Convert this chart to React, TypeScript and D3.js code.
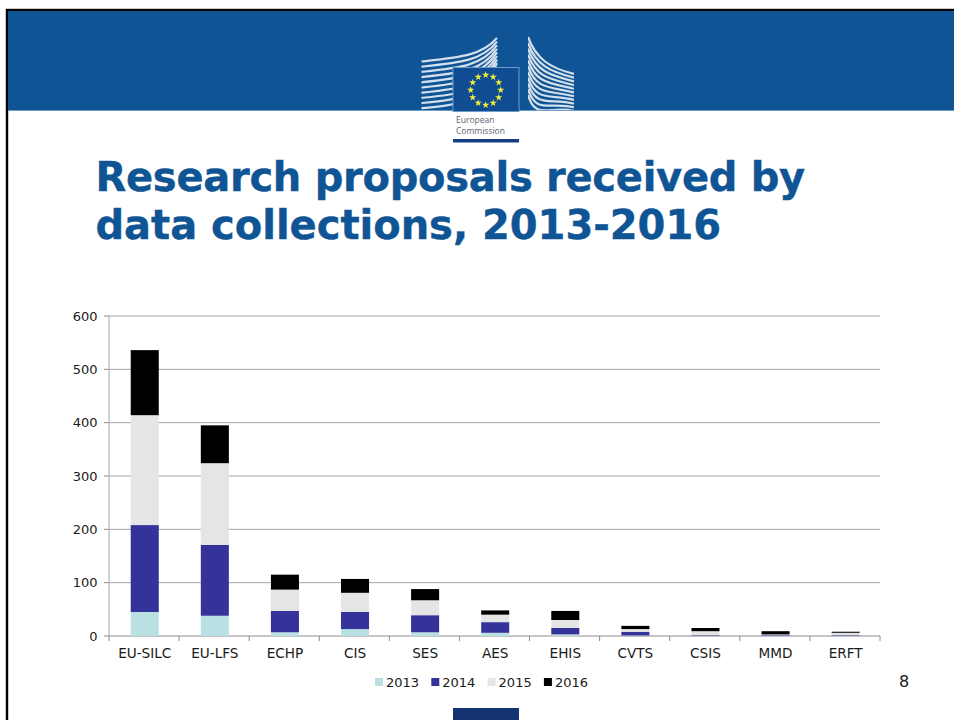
import React from "react";
import * as d3 from "d3";

const categories = ["EU-SILC","EU-LFS","ECHP","CIS","SES","AES","EHIS","CVTS","CSIS","MMD","ERFT"];
const years = ["2013","2014","2015","2016"];
const v2013 = [45,38,7,13,7,6,3,1,1,1,1];
const v2014 = [163,133,40,32,32,20,12,7,1,1,1];
const v2015 = [206,153,40,36,28,14,15,5,7,1,4];
const v2016 = [122,71,28,26,21,8,17,6,6,6,2];
const yTicks = [0,100,200,300,400,500,600];
const colors = ["#b9e0e3","#35339a","#e5e5e5","#000000"];
const titleLines = ["Research proposals received by","data collections, 2013-2016"];
const titleSpacing = [-0.28,-0.02];
const font = "'DejaVu Sans', Verdana, sans-serif";

const x = d3.scaleBand<string>().domain(categories).range([109.7,880.7]).paddingInner(0.6).paddingOuter(0.3);
const step = 771/11;
const y = d3.scaleLinear().domain([0,600]).range([636,316]);
const rows = categories.map((c,i)=>({cat:c,"2013":v2013[i],"2014":v2014[i],"2015":v2015[i],"2016":v2016[i]}));
const stacked = d3.stack<any>().keys(years)(rows);

const leftStripes = d3.range(0,10).map(i=>{
  const y0=61.5+i*5.2, y1=38+i*3.6;
  return `M421.5,${y0} C460,${y0-4} 482,${y0-6} 497,${y1}`;
});
const rightStripes = d3.range(0,11).map(i=>{
  const y0=37+i*4.6, y1=74+i*3.7;
  return `M528,${y0+ i*1.2} C536,${y0+22+i*1.6} 550,${y1-6} 574,${y1}`;
});
const star = d3.symbol().type(d3.symbolStar).size(16);
const stars = d3.range(12).map(i=>{
  const a=i*Math.PI/6;
  return [485.7+15*Math.sin(a), 90-15*Math.cos(a)];
});

export default function App(){
  const band=x.bandwidth();
  return (
    <svg width={954} height={720} style={{position:"absolute",left:0,top:0,background:"#fff"}} fontFamily={font}>
      <rect x={7} y={10} width={960} height={740} fill="none" stroke="#000" strokeWidth={2.4}/>
      <rect x={8} y={11} width={946} height={99} fill="#0f5494"/>
      <rect x={8} y={110} width={946} height={1} fill="#6d9cc6"/>
      <g fill="none" stroke="#e8eff6" strokeWidth={2.2} opacity={0.9}>
        <clipPath id="lc"><rect x={421} y={30} width={80} height={80}/></clipPath>
        <g clipPath="url(#lc)">{leftStripes.map((d,i)=><path key={i} d={d}/>)}</g>
        <clipPath id="rc"><rect x={528} y={30} width={46} height={80}/></clipPath>
        <g clipPath="url(#rc)">{rightStripes.map((d,i)=><path key={i} d={d}/>)}</g>
      </g>
      <rect x={453} y={67.5} width={66} height={44} fill="#0f4c92" stroke="#6d9cc6"/>
      {stars.map((p,i)=><path key={i} d={star()!} transform={`translate(${p[0]},${p[1]})`} fill="#f2ee3a"/>)}
      <text x={456} y={123} fontFamily="'Open Sans', sans-serif" fontSize={8.5} fill="#5c6670">European</text>
      <text x={456} y={134} fontFamily="'Open Sans', sans-serif" fontSize={8.5} fill="#5c6670">Commission</text>
      <rect x={453} y={139} width={66} height={3.5} fill="#143f86"/>

      {titleLines.map((t,i)=>(
        <text key={i} x={95.5} y={191+i*48} fontSize={40} fontWeight={700} letterSpacing={titleSpacing[i]} fill="#0f5494" stroke="#0f5494" strokeWidth={0.4}>{t}</text>
      ))}

      {yTicks.map(t=>(
        <g key={t}>
          <line x1={109} x2={880} y1={y(t)} y2={y(t)} stroke={t===0?"#8c8c8c":"#a6a6a6"} strokeWidth={1}/>
          <line x1={104} x2={109} y1={y(t)} y2={y(t)} stroke="#8c8c8c"/>
          <text x={97.5} y={y(t)+4.5} textAnchor="end" fontSize={13} fill="#1a1a1a">{t}</text>
        </g>
      ))}
      <line x1={109} x2={109} y1={316} y2={636} stroke="#a6a6a6"/>
      {d3.range(12).map(i=>(
        <line key={i} x1={109+i*step} x2={109+i*step} y1={636} y2={641} stroke="#8c8c8c"/>
      ))}
      {stacked.map((s,si)=>(
        <g key={s.key} fill={colors[si]}>
          {s.map((d,i)=>(
            <rect key={i} x={x(categories[i])!} y={y(d[1])} width={band} height={y(d[0])-y(d[1])}/>
          ))}
        </g>
      ))}
      {categories.map(c=>(
        <text key={c} x={x(c)!+band/2} y={658} textAnchor="middle" fontSize={13.6} fill="#1a1a1a">{c}</text>
      ))}
      {years.map((yr,i)=>(
        <g key={yr} transform={`translate(${375+i*56.3},0)`}>
          <rect x={0} y={678} width={8} height={8} fill={colors[i]}/>
          <text x={11} y={687} fontSize={13} fill="#1a1a1a">{yr}</text>
        </g>
      ))}
      <text x={899} y={687} fontSize={16} fill="#1a1a1a">8</text>
      <rect x={453} y={708} width={66} height={12} fill="#143373"/>
    </svg>
  );
}
